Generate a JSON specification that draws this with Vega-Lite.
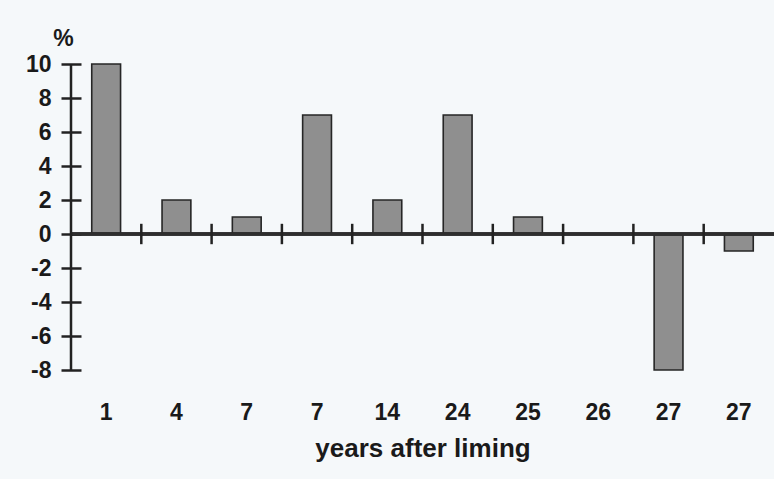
{
  "$schema": "https://vega.github.io/schema/vega-lite/v6.json",
  "width": 703,
  "height": 306,
  "autosize": {"type": "none"},
  "padding": {"left": 71, "top": 64, "right": 0, "bottom": 109},
  "background": "#f5f8fa",
  "config": {"view": {"stroke": null}, "font": "Liberation Sans"},
  "data": {
    "values": [
      {"n": 1, "key": "1", "change": 10},
      {"n": 2, "key": "4", "change": 2},
      {"n": 3, "key": "7", "change": 1},
      {"n": 4, "key": "7_2", "change": 7},
      {"n": 5, "key": "14", "change": 2},
      {"n": 6, "key": "24", "change": 7},
      {"n": 7, "key": "25", "change": 1},
      {"n": 8, "key": "26", "change": 0},
      {"n": 9, "key": "27", "change": -8},
      {"n": 10, "key": "27_2", "change": -1}
    ]
  },
  "layer": [
    {
      "mark": {"type": "bar", "width": {"band": 0.41}, "fill": "#8f8f8f", "stroke": "#262626", "strokeWidth": 1.6},
      "encoding": {
        "x": {
          "field": "key", "type": "nominal", "sort": null,
          "scale": {"domain": ["1", "4", "7", "7_2", "14", "24", "25", "26", "27", "27_2"], "paddingInner": 0, "paddingOuter": 0},
          "axis": {
            "title": "years after liming",
            "labelExpr": "split(datum.value, '_')[0]",
            "labelAngle": 0, "domain": false, "ticks": false, "tickSize": 0,
            "labelPadding": 31, "labelFontSize": 23, "labelFontWeight": "bold", "labelColor": "#1a1a1a",
            "titleFontSize": 26, "titleFontWeight": "bold", "titleColor": "#1a1a1a", "titlePadding": 11
          }
        },
        "y": {
          "field": "change", "type": "quantitative",
          "scale": {"domain": [-8, 10], "nice": false, "zero": false},
          "axis": {
            "values": [-8, -6, -4, -2, 0, 2, 4, 6, 8, 10],
            "tickCount": 20,
            "labelExpr": "'' + datum.value",
            "labelOverlap": false, "labelBound": false,
            "offset": -10, "tickSize": 20, "tickWidth": 2.5, "tickColor": "#222222",
            "domain": false, "grid": false, "labelFlush": false,
            "labelPadding": 10, "labelFontSize": 23, "labelFontWeight": "bold", "labelColor": "#1a1a1a",
            "title": "%", "titleAngle": 0, "titleX": -18, "titleY": -26, "titleAlign": "center", "titleBaseline": "middle",
            "titleFontSize": 23, "titleFontWeight": "bold", "titleColor": "#1a1a1a"
          }
        }
      }
    },
    {
      "mark": {"type": "rule", "color": "#2e2e2e", "strokeWidth": 2.5},
      "encoding": {"y": {"datum": 0}}
    },
    {
      "transform": [{"filter": "datum.n == 1"}],
      "mark": {"type": "rule", "color": "#222222", "strokeWidth": 2.5},
      "encoding": {
        "x": {"field": "key", "type": "nominal", "sort": null, "bandPosition": 0},
        "y": {"datum": -8},
        "y2": {"datum": 10}
      }
    },
    {
      "transform": [{"filter": "datum.n > 1"}],
      "mark": {"type": "rule", "color": "#222222", "strokeWidth": 2.5},
      "encoding": {
        "x": {"field": "key", "type": "nominal", "sort": null, "bandPosition": 0},
        "y": {"datum": -0.6},
        "y2": {"datum": 0.6}
      }
    }
  ]
}
